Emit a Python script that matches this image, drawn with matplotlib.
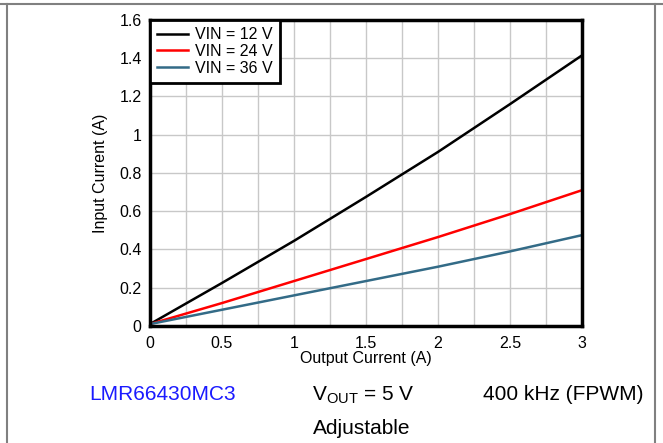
import matplotlib
matplotlib.use('Agg')
import matplotlib.pyplot as plt
from matplotlib.lines import Line2D

plt.rcParams['font.family'] = ['Liberation Sans', 'DejaVu Sans']

iout = [0, 0.5, 1, 1.5, 2, 2.5, 3]
iin_12v = [0.01, 0.225, 0.445, 0.675, 0.91, 1.16, 1.415]
iin_24v = [0.01, 0.12, 0.235, 0.35, 0.465, 0.585, 0.71]
iin_36v = [0.01, 0.085, 0.16, 0.235, 0.31, 0.39, 0.475]
labels = ['VIN = 12 V', 'VIN = 24 V', 'VIN = 36 V']
colors = ['black', '#ff0000', '#336b87']

fig = plt.figure(figsize=(6.63, 4.43), dpi=100)
ax = fig.add_axes([0.2262, 0.2641, 0.6516, 0.6908])

for ys, lab, c in zip([iin_12v, iin_24v, iin_36v], labels, colors):
    ax.plot(iout, ys, color=c, lw=1.8, label=lab)

ax.set_xlim(0, 3)
ax.set_ylim(0, 1.6)
ax.set_xticks([0, 0.5, 1, 1.5, 2, 2.5, 3])
ax.set_xticklabels(['0', '0.5', '1', '1.5', '2', '2.5', '3'])
ax.set_xticks([0.25 * i for i in range(13)], minor=True)
ax.set_yticks([0.2 * i for i in range(9)])
ax.set_yticklabels(['0', '0.2', '0.4', '0.6', '0.8', '1', '1.2', '1.4', '1.6'])
ax.grid(True, which='both', color='#c8c8c8', lw=1)
ax.tick_params(which='both', length=0, labelsize=11.5, pad=6)
ax.tick_params(axis='x', pad=7)
for s in ax.spines.values():
    s.set_linewidth(2.5)
ax.set_xlabel('Output Current (A)', fontsize=11.5, labelpad=0)
ax.set_ylabel('Input Current (A)', fontsize=11.5, labelpad=8)

leg = ax.legend(loc='upper left', fontsize=11.5, borderaxespad=0, fancybox=False,
                framealpha=1, edgecolor='black', handlelength=1.9,
                handletextpad=0.45, labelspacing=0.12, borderpad=0.45)
leg.get_frame().set_linewidth(2)

fig.text(163 / 663, 1 - 395 / 443, 'LMR66430MC3', color='#1a1aff', fontsize=15,
         ha='center', va='center')
fig.text(363 / 663, 1 - 395 / 443, r'V$_{\mathregular{OUT}}$ = 5 V', fontsize=15,
         ha='center', va='center')
fig.text(563 / 663, 1 - 395 / 443, '400 kHz (FPWM)', fontsize=15,
         ha='center', va='center')
fig.text(362 / 663, 1 - 428 / 443, 'Adjustable', fontsize=15,
         ha='center', va='center')

# frame lines around the figure
fig.add_artist(Line2D([0, 1], [1 - 4 / 443, 1 - 4 / 443], color='#808080', lw=1.5))
fig.add_artist(Line2D([7 / 663, 7 / 663], [0, 1 - 4 / 443], color='#808080', lw=1.5))
fig.add_artist(Line2D([655 / 663, 655 / 663], [0, 1 - 4 / 443], color='#808080', lw=1.5))

fig.savefig('out.png', dpi=100)
